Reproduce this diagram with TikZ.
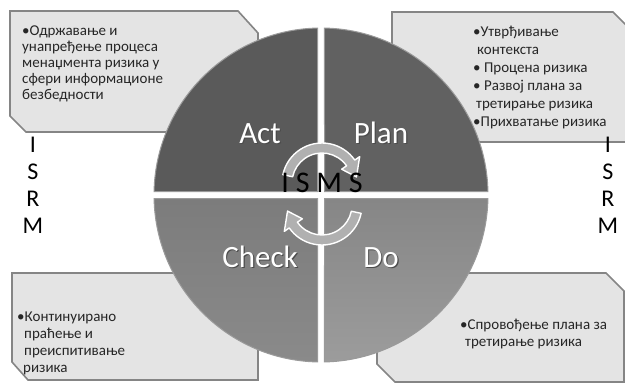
\documentclass[tikz,border=0pt]{standalone}
\usepackage{fontspec}
\setmainfont{Carlito}
\definecolor{boxfill}{HTML}{E4E4E4}
\definecolor{boxline}{HTML}{858585}
\definecolor{actcol}{HTML}{5A5A5A}
\definecolor{plancol}{HTML}{616161}
\definecolor{checktop}{HTML}{7C7C7C}
\definecolor{checkbot}{HTML}{8A8A8A}
\definecolor{dotop}{HTML}{868686}
\definecolor{dobot}{HTML}{9C9C9C}
\definecolor{rimcol}{HTML}{9A9A9A}
\definecolor{arrowcol}{HTML}{B0B0B0}
\begin{document}
\begin{tikzpicture}[x=1pt,y=-1pt,
  boxshape/.style={fill=boxfill, draw=boxline, line width=1.6pt, line join=miter},
  boxtext/.style={anchor=base west, align=left, inner sep=0pt, text=black!85},
  quadshape/.style={draw=rimcol, line width=1pt},
  quadlabel/.style={font=\fontsize{31}{31}\selectfont, text=white, anchor=base, inner sep=0pt},
  quadshadow/.style={font=\fontsize{31}{31}\selectfont, text=black!70, anchor=base, inner sep=0pt},
  cyclearrow/.style={fill=arrowcol, draw=white, line width=1.4pt, line join=round},
  sideletters/.style={align=center, inner sep=0pt, anchor=base, font=\fontsize{24}{27}\selectfont}]
\useasboundingbox (0,0) rectangle (625,384);
\clip (0,0) rectangle (625,384);
\fill[white] (0,0) rectangle (625,384);

% text boxes
\draw[boxshape] (10,11) -- (238,11) -- (258,33) -- (258,132) -- (26,132) -- (10,116) -- cycle;
\draw[boxshape] (392,12) -- (613,12) -- (636,35) -- (636,142) -- (408,142) -- (392,126) -- cycle;
\draw[boxshape] (12,273) -- (238,273) -- (258,293) -- (258,380) -- (28,380) -- (12,362) -- cycle;
\draw[boxshape] (377,273) -- (606,273) -- (624,291) -- (624,382) -- (395,382) -- (377,364) -- cycle;

% (anchor base = baseline of the last line)
\node[boxtext, font=\fontsize{15}{15.8}\selectfont] (tltext) at (22,99)
  {•Одржавање и\\унапређење процеса\\менаџмента ризика у\\сфери информационе\\безбедности};
\node[boxtext, font=\fontsize{15}{18}\selectfont] (trtext) at (473,126)
  {•Утврђивање\\\hspace*{4pt}контекста\\• Процена ризика\\• Развој плана за\\\hspace*{3pt}третирање ризика\\•Прихватање ризика};
\node[boxtext, font=\fontsize{15}{16.7}\selectfont] (bltext) at (17,372)
  {•Континуирано\\\hspace*{7pt}праћење и\\\hspace*{7pt}преиспитивање\\\hspace*{6pt}ризика};
\node[boxtext, font=\fontsize{15}{17}\selectfont] (brtext) at (460,346)
  {•Спровођење плана за\\\hspace*{5pt}третирање ризика};

% PDCA circle quadrants
\begin{scope}[shift={(321,195)}]
  \draw[quadshape, fill=actcol] (-3.5,-3.5) -- (-91.2:167) arc[start angle=-91.2, end angle=-178.8, radius=167] -- cycle;
  \draw[quadshape, fill=plancol] (3.5,-3.5) -- (-1.2:167) arc[start angle=-1.2, end angle=-88.8, radius=167] -- cycle;
  \draw[quadshape, top color=checktop, bottom color=checkbot] (-3.5,3.5) -- (178.8:167) arc[start angle=178.8, end angle=91.2, radius=167] -- cycle;
  \draw[quadshape, top color=dotop, bottom color=dobot] (3.5,3.5) -- (88.8:167) arc[start angle=88.8, end angle=1.2, radius=167] -- cycle;
\end{scope}

% quadrant labels
\node[quadshadow] (actsh) at (261.2,144.2) {Act};
\node[quadshadow] (plansh) at (382.2,144.2) {Plan};
\node[quadshadow] (checksh) at (261.2,268.2) {Check};
\node[quadshadow] (dosh) at (382.2,268.2) {Do};
\node[quadlabel] (act) at (260,143) {Act};
\node[quadlabel] (plan) at (381,143) {Plan};
\node[quadlabel] (check) at (260,267) {Check};
\node[quadlabel] (do) at (381,267) {Do};

% circular arrows
\begin{scope}[shift={(322,183)}]
  \draw[cyclearrow] (-168:40) arc[start angle=-168, end angle=-35, radius=40] -- (-35:46) -- (-10:35) -- (-35:24) -- (-35:30) arc[start angle=-35, end angle=-168, radius=30] -- cycle;
\end{scope}
\begin{scope}[shift={(322,205)}]
  \draw[cyclearrow] (12:40) arc[start angle=12, end angle=145, radius=40] -- (145:46) -- (170:35) -- (145:24) -- (145:30) arc[start angle=145, end angle=12, radius=30] -- cycle;
\end{scope}

\node[anchor=base, inner sep=0pt, font=\fontsize{30}{30}\selectfont] (isms) at (322,192) {I S M S};

% side labels
\node[sideletters] (isrmleft) at (33,233) {I\\S\\R\\M};
\node[sideletters] (isrmright) at (608,233) {I\\S\\R\\M};
\end{tikzpicture}
\end{document}
